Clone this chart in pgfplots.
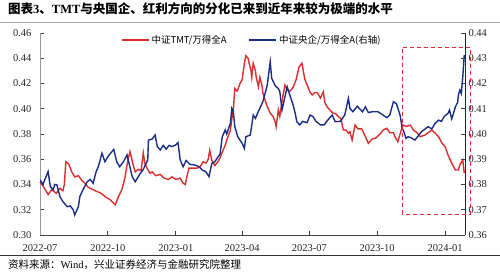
\documentclass[border=0pt]{standalone}
\usepackage{fontspec}
\setmainfont{Liberation Serif}
\newfontfamily\cjk{Noto Sans CJK SC}
\usepackage{pgfplots}
\pgfplotsset{compat=1.18}
\definecolor{cred}{RGB}{218,45,45}
\definecolor{cblue}{RGB}{25,45,135}
\begin{document}
\begin{tikzpicture}
\path[use as bounding box] (0pt,0pt) rectangle (500pt,272pt);
\begin{axis}[
 at={(40pt,37pt)}, anchor=south west, scale only axis,
 width=425pt, height=202pt,
 xmin=0, xmax=576, ymin=0.30, ymax=0.46,
 ytick={0.30,0.32,0.34,0.36,0.38,0.40,0.42,0.44,0.46},
 xtick={0,92,184,274,365,457,549},
 xticklabels={2022-07,2022-10,2023-01,2023-04,2023-07,2023-10,2024-01},
 axis y line*=left, axis x line*=bottom,
 tick align=inside, major tick length=4pt,
 yticklabel style={xshift=-5pt, /pgf/number format/.cd, fixed, fixed zerofill, precision=2},
 xticklabel style={yshift=-6pt},
 /pgf/number format/assume math mode=true,
 tick label style={font=\fontsize{10.5}{12}\selectfont, text=black!85},
 y axis line style={gray!80, line width=0.9pt},
 x axis line style={black!75, line width=0.9pt},
 tick style={black!75, line width=0.8pt},
 clip=false,
 legend style={at={(0.4985,0.965)}, anchor=center, draw=none, fill=none,
   font=\cjk\fontsize{9.5}{11}\selectfont, legend columns=2,
   /tikz/every even column/.append style={column sep=20pt}},
 legend image code/.code={\draw[#1] (0pt,0pt) -- (27pt,0pt);},
]
\addplot[cred, line width=1.4pt] coordinates {
(0,0.342)(5,0.338)(11,0.332)(16,0.336)(22,0.333)(27,0.337)(31,0.335)(33,0.340)(35,0.358)(39,0.356)(43,0.350)(47,0.346)(52,0.347)(57,0.343)(61,0.341)(65,0.338)(68,0.337)(75,0.335)(83,0.333)(89,0.330)(95,0.328)(102,0.3238)(106,0.330)(111,0.336)(115,0.345)(119,0.359)(122,0.366)(126,0.356)(129,0.350)(133,0.352)(137,0.351)(140,0.365)(142,0.357)(145,0.353)(149,0.349)(152,0.350)(157,0.347)(163,0.348)(168,0.345)(174,0.344)(179,0.346)(184,0.344)(190,0.345)(194,0.341)(197,0.340)(199,0.346)(202,0.353)(207,0.353)(213,0.353)(217,0.354)(221,0.358)(225,0.357)(228,0.360)(230,0.367)(233,0.359)(237,0.355)(241,0.358)(244,0.361)(248,0.367)(251,0.371)(253,0.375)(258,0.383)(260,0.392)(262,0.399)(264,0.416)(267,0.414)(268,0.415)(271,0.420)(274,0.423)(277,0.436)(279,0.442)(282,0.440)(283,0.437)(286,0.430)(287,0.425)(289,0.436)(292,0.430)(293,0.425)(296,0.4175)(298,0.425)(301,0.418)(302,0.4125)(305,0.407)(308,0.4016)(312,0.3966)(316,0.3937)(319,0.389)(320,0.3858)(323,0.399)(325,0.394)(329,0.4095)(332,0.4188)(335,0.415)(339,0.414)(343,0.417)(347,0.4228)(351,0.433)(355,0.436)(359,0.423)(363,0.4175)(366,0.413)(369,0.411)(373,0.413)(376,0.4125)(380,0.4085)(384,0.4135)(386,0.405)(389,0.4016)(393,0.399)(397,0.3966)(401,0.396)(404,0.394)(408,0.392)(411,0.3832)(415,0.383)(418,0.3806)(420,0.3818)(423,0.3753)(427,0.3871)(431,0.384)(436,0.384)(441,0.3779)(445,0.3726)(450,0.376)(455,0.3768)(461,0.380)(465,0.3832)(470,0.3845)(474,0.381)(479,0.381)(481,0.3779)(485,0.3739)(488,0.380)(492,0.3871)(496,0.386)(502,0.387)(506,0.3832)(511,0.381)(515,0.3779)(521,0.379)(526,0.381)(531,0.3832)(535,0.381)(540,0.378)(545,0.3726)(549,0.370)(553,0.3634)(558,0.3568)(563,0.3515)(567,0.3515)(569,0.3555)(573,0.3594)(575,0.349)
};
\addlegendentry{中证TMT/万得全A}
\addlegendimage{cblue, line width=1.4pt}
\addlegendentry{中证央企/万得全A(右轴)}
\end{axis}
\begin{axis}[
 at={(40pt,37pt)}, anchor=south west, scale only axis,
 width=425pt, height=202pt,
 xmin=0, xmax=576, ymin=0.36, ymax=0.44,
 ytick={0.36,0.37,0.38,0.39,0.40,0.41,0.42,0.43,0.44},
 axis y line*=right, axis x line=none,
 tick align=inside, major tick length=4pt,
 yticklabel style={/pgf/number format/.cd, fixed, fixed zerofill, precision=2},
 /pgf/number format/assume math mode=true,
 tick label style={font=\fontsize{10.5}{12}\selectfont, text=black!85},
 y axis line style={black!85, line width=0.9pt},
 tick style={black!75, line width=0.8pt},
]
\addplot[cblue, line width=1.4pt] coordinates {
(0,0.3818)(4,0.380)(8,0.383)(11,0.3851)(14,0.3791)(18,0.378)(20,0.380)(23,0.3798)(27,0.3752)(31,0.3732)(37,0.3712)(41,0.3715)(45,0.370)(47,0.3679)(52,0.3712)(54,0.3752)(58,0.3778)(64,0.3811)(68,0.382)(72,0.3805)(76,0.385)(79,0.387)(84,0.3924)(88,0.389)(92,0.391)(96,0.3925)(100,0.3939)(104,0.389)(108,0.387)(113,0.389)(118,0.3917)(121,0.388)(125,0.3831)(129,0.3811)(133,0.383)(136,0.3844)(140,0.386)(146,0.3897)(147,0.3976)(152,0.398)(156,0.3996)(159,0.395)(163,0.3937)(167,0.3955)(171,0.394)(175,0.3955)(179,0.395)(184,0.3957)(187,0.3966)(190,0.3897)(194,0.387)(198,0.3895)(203,0.388)(210,0.3877)(216,0.387)(220,0.3857)(225,0.385)(229,0.3831)(233,0.3884)(237,0.389)(240,0.3904)(244,0.392)(247,0.3989)(251,0.4016)(253,0.400)(258,0.4042)(260,0.4102)(262,0.409)(264,0.4029)(268,0.3989)(274,0.3963)(277,0.3943)(279,0.3989)(285,0.3996)(289,0.4075)(292,0.4062)(296,0.4090)(298,0.4102)(302,0.4128)(305,0.416)(308,0.4194)(312,0.4286)(314,0.4221)(319,0.419)(323,0.418)(325,0.4168)(328,0.4095)(332,0.4148)(335,0.4187)(339,0.415)(343,0.4115)(346,0.408)(348,0.4049)(352,0.4036)(356,0.405)(362,0.4045)(366,0.4075)(370,0.4069)(374,0.405)(380,0.4036)(385,0.4036)(390,0.4055)(396,0.4075)(400,0.4049)(407,0.405)(413,0.4075)(418,0.4141)(420,0.4102)(424,0.4088)(430,0.411)(437,0.4088)(441,0.4108)(445,0.4085)(450,0.4088)(458,0.4088)(465,0.4075)(470,0.4065)(474,0.4075)(479,0.4128)(483,0.412)(488,0.4075)(491,0.4022)(493,0.401)(496,0.3983)(499,0.3989)(503,0.3985)(508,0.3976)(512,0.399)(517,0.4009)(522,0.402)(526,0.4029)(531,0.402)(535,0.404)(540,0.4055)(544,0.405)(548,0.407)(553,0.4082)(555,0.4095)(558,0.406)(561,0.4088)(563,0.4108)(566,0.4125)(567,0.4154)(569,0.4174)(571,0.416)(573,0.4227)(575,0.4313)
};
\end{axis}
\draw[cred, dashed, line width=0.9pt, dash pattern=on 4pt off 3pt] (402pt,58pt) rectangle (470pt,225pt);
\node[anchor=west, inner sep=0pt] at (8pt,263pt) {\fontsize{12.5}{14}\selectfont\bfseries{\cjk 图表}3{\cjk 、}TMT{\cjk 与央国企、红利方向的分化已来到近年来较为极端的水平}};
\draw[gray!70, line width=1.3pt] (0pt,249.5pt) -- (500pt,249.5pt);
\draw[black!80, line width=0.8pt] (0pt,17pt) -- (500pt,17pt);
\node[anchor=west, inner sep=0pt] at (8pt,7pt) {\fontsize{10.5}{12}\selectfont{\cjk 资料来源：}Wind{\cjk ，兴业证券经济与金融研究院整理}};
\end{tikzpicture}
\end{document}
